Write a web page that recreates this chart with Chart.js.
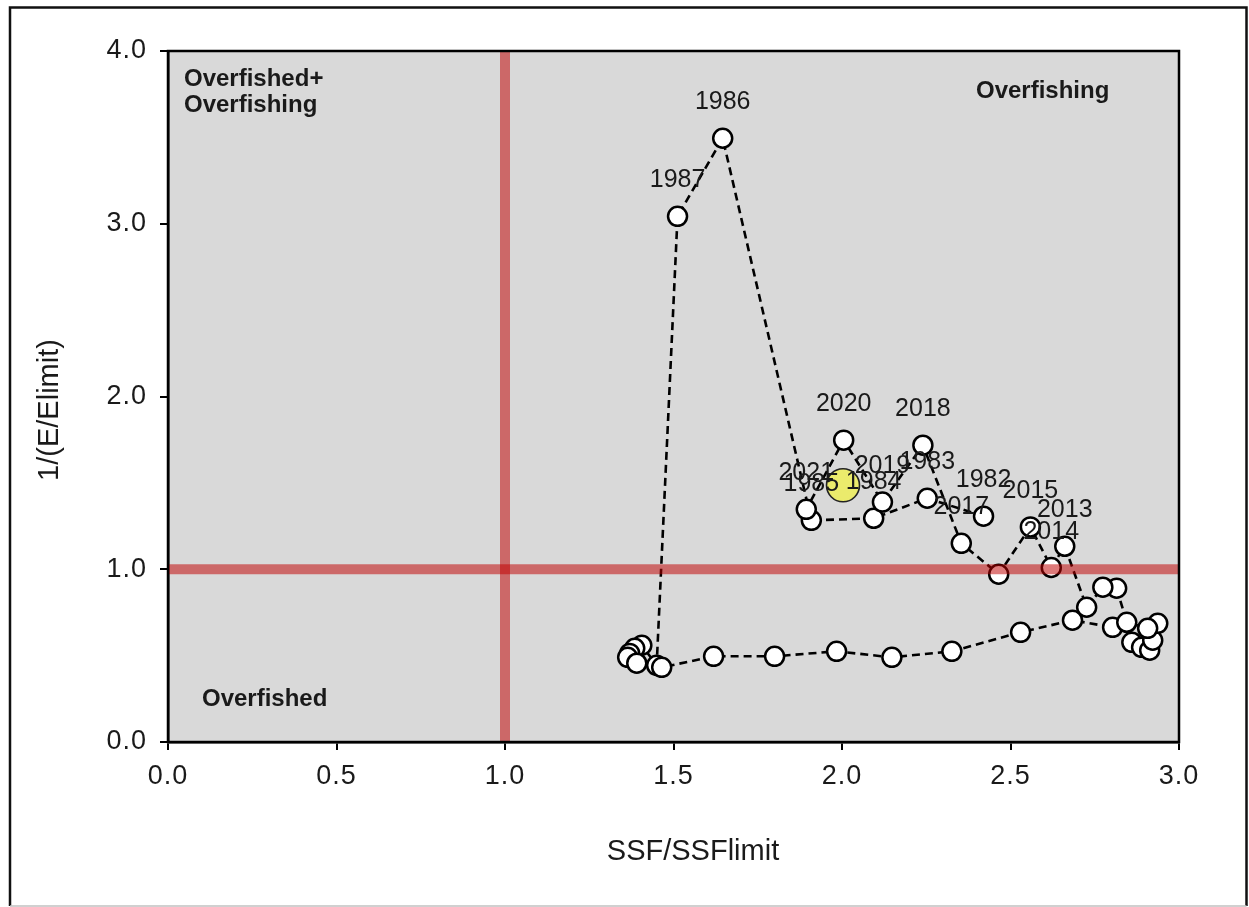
<!DOCTYPE html>
<html>
<head>
<meta charset="utf-8">
<script src="https://cdn.jsdelivr.net/npm/chart.js@4"></script>
<style>
  html, body { margin: 0; padding: 0; background: #ffffff; }
  #wrap { width: 1249px; height: 907px; }
</style>
</head>
<body>
<div id="wrap"><canvas id="kobe" width="1249" height="907"></canvas></div>
<script>
// Stock trajectory, 1982-2021
const years = [1982, 1983, 1984, 1985, 1986, 1987, 1988, 1989, 1990, 1991,
               1992, 1993, 1994, 1995, 1996, 1997, 1998, 1999, 2000, 2001,
               2002, 2003, 2004, 2005, 2006, 2007, 2008, 2009, 2010, 2011,
               2012, 2013, 2014, 2015, 2016, 2017, 2018, 2019, 2020, 2021];
const ssfRatio = [2.420, 2.253, 2.094, 1.909, 1.646, 1.512, 1.450, 1.406, 1.385, 1.370,
                  1.364, 1.391, 1.465, 1.619, 1.800, 1.984, 2.148, 2.326, 2.530, 2.684,
                  2.803, 2.860, 2.889, 2.913, 2.922, 2.937, 2.907, 2.845, 2.815, 2.774,
                  2.726, 2.661, 2.621, 2.559, 2.465, 2.354, 2.240, 2.120, 2.005, 1.894];
const effortRatio = [1.307, 1.411, 1.295, 1.283, 3.495, 3.043, 0.444, 0.560, 0.542, 0.513,
                     0.490, 0.456, 0.432, 0.496, 0.496, 0.525, 0.490, 0.525, 0.635, 0.705,
                     0.664, 0.577, 0.548, 0.531, 0.589, 0.687, 0.658, 0.693, 0.890, 0.896,
                     0.780, 1.133, 1.010, 1.245, 0.971, 1.150, 1.718, 1.389, 1.747, 1.347];
const labeledYears = [1982, 1983, 1984, 1985, 1986, 1987, 2013, 2014, 2015, 2017, 2018, 2019, 2020, 2021];

// Current status marker
const currentSsf = [2.003];
const currentEffort = [1.486];

// Reference limits
const ssfLimit = 1.0;
const effortLimit = 1.0;

const xTicks = [0.0, 0.5, 1.0, 1.5, 2.0, 2.5, 3.0];
const yTicks = [0.0, 1.0, 2.0, 3.0, 4.0];

const FONT = '"Liberation Sans", Arial, sans-serif';
const INK = '#1a1a1a';

const trajectory = years.map((y, i) => ({ x: ssfRatio[i], y: effortRatio[i] }));
const current = currentSsf.map((x, i) => ({ x: x, y: currentEffort[i] }));

const framePlugin = {
  id: 'frame',
  beforeDraw(chart) {
    const ctx = chart.ctx;
    const a = chart.chartArea;
    ctx.save();
    ctx.fillStyle = '#ffffff';
    ctx.fillRect(0, 0, chart.width, chart.height);
    // outer frame
    ctx.strokeStyle = '#111111';
    ctx.lineWidth = 2.5;
    ctx.beginPath();
    ctx.moveTo(10, 906);
    ctx.lineTo(10, 7.5);
    ctx.lineTo(1246.5, 7.5);
    ctx.lineTo(1246.5, 906);
    ctx.stroke();
    ctx.strokeStyle = '#c0c0c0';
    ctx.lineWidth = 1.5;
    ctx.beginPath();
    ctx.moveTo(10, 906);
    ctx.lineTo(1246.5, 906);
    ctx.stroke();
    // plot background
    ctx.fillStyle = '#d9d9d9';
    ctx.fillRect(a.left, a.top, a.right - a.left, a.bottom - a.top);
    ctx.restore();
    // slightly wider spacing for the axis tick numbers
    ctx.letterSpacing = '1px';
  },
  beforeDatasetsDraw(chart) {
    chart.ctx.letterSpacing = '0px';
  },
  afterDatasetsDraw(chart) {
    const ctx = chart.ctx;
    const a = chart.chartArea;
    const xs = chart.scales.x, ys = chart.scales.y;
    ctx.save();
    // limit lines
    ctx.strokeStyle = 'rgba(192, 0, 0, 0.52)';
    ctx.lineWidth = 10;
    const lx = xs.getPixelForValue(ssfLimit);
    const ly = ys.getPixelForValue(effortLimit);
    ctx.beginPath();
    ctx.moveTo(lx, a.top);
    ctx.lineTo(lx, a.bottom);
    ctx.stroke();
    ctx.beginPath();
    ctx.moveTo(a.left, ly);
    ctx.lineTo(a.right, ly);
    ctx.stroke();
    // plot border
    ctx.strokeStyle = '#000000';
    ctx.lineWidth = 2.5;
    ctx.strokeRect(a.left, a.top, a.right - a.left, a.bottom - a.top);
    ctx.restore();
  },
  afterDraw(chart) {
    const ctx = chart.ctx;
    const a = chart.chartArea;
    const pts = chart.getDatasetMeta(1).data;
    ctx.save();
    ctx.letterSpacing = '0px';
    // year labels above points
    ctx.fillStyle = INK;
    ctx.font = '25px ' + FONT;
    ctx.textAlign = 'center';
    ctx.textBaseline = 'alphabetic';
    years.forEach((yr, i) => {
      if (labeledYears.includes(yr)) {
        const p = pts[i];
        ctx.fillText(String(yr), p.x, p.y - 29);
      }
    });
    // quadrant labels
    ctx.font = 'bold 24px ' + FONT;
    ctx.textAlign = 'left';
    ctx.fillText('Overfished+', a.left + 16, a.top + 35);
    ctx.fillText('Overfishing', a.left + 16, a.top + 61);
    ctx.fillText('Overfishing', 976, a.top + 47);
    ctx.fillText('Overfished', a.left + 34, a.bottom - 36);
    // axis titles
    ctx.font = '29px ' + FONT;
    ctx.textAlign = 'center';
    ctx.fillText('SSF/SSFlimit', 693, 860);
    ctx.translate(58, 410);
    ctx.rotate(-Math.PI / 2);
    ctx.fillText('1/(E/Elimit)', 0, 0);
    ctx.restore();
  }
};

new Chart(document.getElementById('kobe'), {
  type: 'scatter',
  data: {
    datasets: [
      {
        label: 'Current',
        data: current,
        order: 0,
        pointRadius: 16.5,
        pointHoverRadius: 16.5,
        pointBackgroundColor: '#ebeb6c',
        pointBorderColor: '#222222',
        pointBorderWidth: 1.6,
        showLine: false
      },
      {
        label: 'Trajectory',
        data: trajectory,
        order: 1,
        showLine: true,
        borderColor: '#000000',
        borderWidth: 2.6,
        borderDash: [8, 5],
        tension: 0,
        pointRadius: 9.5,
        pointHoverRadius: 9.5,
        pointBackgroundColor: '#ffffff',
        pointBorderColor: '#000000',
        pointBorderWidth: 2.5
      }
    ]
  },
  options: {
    responsive: false,
    animation: false,
    devicePixelRatio: 1,
    layout: { padding: { top: 51, right: 70, left: 0, bottom: 0 } },
    plugins: {
      legend: { display: false },
      tooltip: { enabled: false },
      title: { display: false }
    },
    scales: {
      x: {
        type: 'linear',
        min: 0,
        max: 3,
        afterFit(s) { s.height = 165; },
        afterBuildTicks(s) { s.ticks = xTicks.map(v => ({ value: v })); },
        grid: { display: true, drawOnChartArea: false, drawTicks: true, tickLength: 8, color: '#000000', lineWidth: 2 },
        border: { display: true, color: '#000000', width: 2.5 },
        ticks: {
          color: INK,
          padding: 10,
          font: { family: FONT, size: 27 },
          callback: v => Number(v).toFixed(1)
        }
      },
      y: {
        type: 'linear',
        min: 0,
        max: 4,
        afterFit(s) { s.width = 168; },
        afterBuildTicks(s) { s.ticks = yTicks.map(v => ({ value: v })); },
        grid: { display: true, drawOnChartArea: false, drawTicks: true, tickLength: 8, color: '#000000', lineWidth: 2 },
        border: { display: true, color: '#000000', width: 2.5 },
        ticks: {
          color: INK,
          padding: 13,
          font: { family: FONT, size: 27 },
          callback: v => Number(v).toFixed(1)
        }
      }
    }
  },
  plugins: [framePlugin]
});
</script>
</body>
</html>
